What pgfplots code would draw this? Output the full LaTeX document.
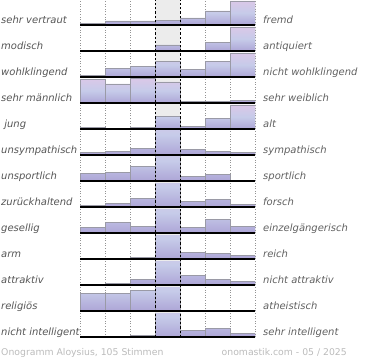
\documentclass[border=0pt]{standalone}
\usepackage{fontspec}
\setmainfont{DejaVu Sans}
\usepackage{pgfplots}
\pgfplotsset{compat=1.18}
\definecolor{lab}{HTML}{555555}
\definecolor{rlab}{HTML}{606060}
\definecolor{foot}{HTML}{BBBBBB}
\definecolor{barTop}{HTML}{DAC8E8}
\definecolor{barMid}{HTML}{C6CBE9}
\definecolor{barBot}{HTML}{ADA5D6}
\definecolor{barEdge}{HTML}{9A9AA6}
\definecolor{midbg}{HTML}{ECECEC}
\pgfplotsset{
  row/.style={scale only axis, width=175pt, height=24pt,
    xmin=0, xmax=7, ymin=0, ymax=24, hide axis, anchor=south west,
    ybar, bar width=25pt, bar shift=0pt},
  bars/.style={draw=barEdge, line width=0.6pt, top color=barTop, bottom color=barBot, middle color=barMid}
}
\newcommand{\lab}[2]{\node[anchor=base west, inner sep=0pt, text=lab, font=\itshape\fontsize{10}{12}\selectfont] at (1pt,#1) {#2};}
\newcommand{\rlab}[2]{\node[anchor=base west, inner sep=0pt, text=rlab, font=\itshape\fontsize{10}{12}\selectfont] at (263pt,#1) {#2};}
\begin{document}
\begin{tikzpicture}
\path[use as bounding box] (0pt,0pt) rectangle (370pt,360pt);
\fill[midbg] (155pt,23pt) rectangle (180pt,360pt);
\foreach \x in {80,105,130,205,230,255} \draw[gray!85, dotted, line width=0.6pt] (\x pt,23pt) -- (\x pt,360pt);
% row 1: sehr vertraut / fremd
\begin{axis}[row, at={(80pt,335pt)}]
\addplot[bars] coordinates {(0.5,1.3) (1.5,4) (2.5,4) (3.5,4.5) (4.5,7) (5.5,14) (6.5,24)};
\end{axis}
% row 2: modisch / antiquiert
\begin{axis}[row, at={(80pt,309pt)}]
\addplot[bars] coordinates {(0.5,0) (1.5,0) (2.5,0) (3.5,6) (4.5,0.5) (5.5,8.5) (6.5,24)};
\end{axis}
% row 3: wohlklingend / nicht wohlklingend
\begin{axis}[row, at={(80pt,283pt)}]
\addplot[bars] coordinates {(0.5,2) (1.5,8.5) (2.5,10.5) (3.5,16) (4.5,8) (5.5,16) (6.5,24)};
\end{axis}
% row 4: sehr maennlich / sehr weiblich
\begin{axis}[row, at={(80pt,257pt)}]
\addplot[bars] coordinates {(0.5,23.5) (1.5,19) (2.5,24.5) (3.5,21) (4.5,1.5) (5.5,1.5) (6.5,2.5)};
\end{axis}
% row 5: jung / alt
\begin{axis}[row, at={(80pt,231pt)}]
\addplot[bars] coordinates {(0.5,1.5) (1.5,1) (2.5,1.5) (3.5,13) (4.5,3) (5.5,10.5) (6.5,24)};
\end{axis}
% row 6: unsympathisch / sympathisch
\begin{axis}[row, at={(80pt,205pt)}]
\addplot[bars] coordinates {(0.5,3) (1.5,4) (2.5,6.5) (3.5,40) (4.5,5.5) (5.5,4) (6.5,2.5)};
\end{axis}
% row 7: unsportlich / sportlich
\begin{axis}[row, at={(80pt,179pt)}]
\addplot[bars] coordinates {(0.5,7.5) (1.5,9) (2.5,15) (3.5,40) (4.5,5) (5.5,6.5) (6.5,1)};
\end{axis}
% row 8: zurueckhaltend / forsch
\begin{axis}[row, at={(80pt,153pt)}]
\addplot[bars] coordinates {(0.5,2) (1.5,3.5) (2.5,9) (3.5,40) (4.5,6) (5.5,7.5) (6.5,2.5)};
\end{axis}
% row 9: gesellig / einzelgaengerisch
\begin{axis}[row, at={(80pt,127pt)}]
\addplot[bars] coordinates {(0.5,6) (1.5,10.5) (2.5,7) (3.5,40) (4.5,6) (5.5,13.5) (6.5,7)};
\end{axis}
% row 10: arm / reich
\begin{axis}[row, at={(80pt,101pt)}]
\addplot[bars] coordinates {(0.5,0) (1.5,0) (2.5,2) (3.5,40) (4.5,7) (5.5,6) (6.5,4)};
\end{axis}
% row 11: attraktiv / nicht attraktiv
\begin{axis}[row, at={(80pt,75pt)}]
\addplot[bars] coordinates {(0.5,1) (1.5,2) (2.5,6) (3.5,40) (4.5,9.5) (5.5,5.5) (6.5,4)};
\end{axis}
% row 12: religioes / atheistisch
\begin{axis}[row, at={(80pt,49pt)}]
\addplot[bars] coordinates {(0.5,17.5) (1.5,17.5) (2.5,21) (3.5,40) (4.5,1) (5.5,1) (6.5,1)};
\end{axis}
% row 13: nicht intelligent / sehr intelligent
\begin{axis}[row, at={(80pt,23pt)}]
\addplot[bars] coordinates {(0.5,0) (1.5,0) (2.5,2) (3.5,40) (4.5,7) (5.5,8.5) (6.5,4)};
\end{axis}
\foreach \y in {335,309,283,257,231,205,179,153,127,101,75,49,23} \draw[black, line width=1.5pt] (80pt,\y pt) -- (255pt,\y pt);
\foreach \x in {155,180} \draw[black, line width=0.8pt, dash pattern=on 2.2pt off 2pt] (\x pt,23pt) -- (\x pt,360pt);
\lab{336.5pt}{sehr vertraut}\rlab{336.5pt}{fremd}
\lab{310.5pt}{modisch}\rlab{310.5pt}{antiquiert}
\lab{284.5pt}{wohlklingend}\rlab{284.5pt}{nicht wohlklingend}
\lab{258.5pt}{sehr männlich}\rlab{258.5pt}{sehr weiblich}
\lab{232.5pt}{\ jung}\rlab{232.5pt}{alt}
\lab{206.5pt}{unsympathisch}\rlab{206.5pt}{sympathisch}
\lab{180.5pt}{unsportlich}\rlab{180.5pt}{sportlich}
\lab{154.5pt}{zurückhaltend}\rlab{154.5pt}{forsch}
\lab{128.5pt}{gesellig}\rlab{128.5pt}{einzelgängerisch}
\lab{102.5pt}{arm}\rlab{102.5pt}{reich}
\lab{76.5pt}{attraktiv}\rlab{76.5pt}{nicht attraktiv}
\lab{50.5pt}{religiös}\rlab{50.5pt}{atheistisch}
\lab{24.5pt}{nicht intelligent}\rlab{24.5pt}{sehr intelligent}
\node[anchor=base west, inner sep=0pt, text=foot, font=\fontsize{9.3}{11}\selectfont] at (1pt,5pt) {Onogramm Aloysius, 105 Stimmen};
\node[anchor=base east, inner sep=0pt, text=foot, font=\fontsize{9.3}{11}\selectfont] at (347pt,5pt) {onomastik.com - 05 / 2025};
\end{tikzpicture}
\end{document}
